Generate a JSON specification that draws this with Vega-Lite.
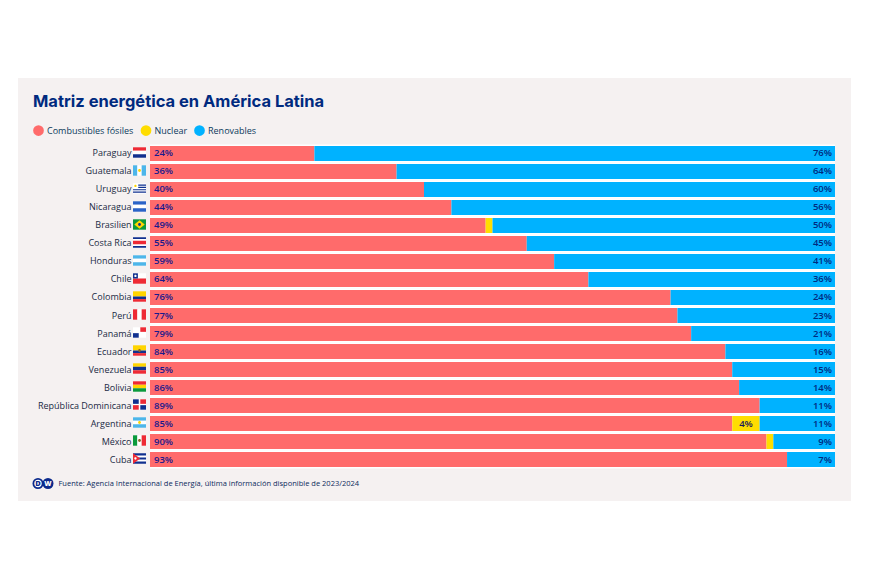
{"$schema":"https://vega.github.io/schema/vega-lite/v6.json","width":833,"height":423,"autosize":{"type":"none"},"padding":{"left":18,"top":78,"right":19,"bottom":79},"background":"#ffffff","config":{"view":{"fill":"#f5f1f1","stroke":null}},
"title":{"text":"Matriz energética en América Latina","anchor":"start","frame":"group","dx":15,"offset":-32,"font":"Inter","fontSize":16.5,"fontWeight":700,"color":"#002a7f"},
"datasets":{"energy":[
{"country":"Paraguay","source":"Combustibles fósiles","value":0.24},{"country":"Paraguay","source":"Renovables","value":0.76},
{"country":"Guatemala","source":"Combustibles fósiles","value":0.36},{"country":"Guatemala","source":"Renovables","value":0.64},
{"country":"Uruguay","source":"Combustibles fósiles","value":0.40},{"country":"Uruguay","source":"Renovables","value":0.60},
{"country":"Nicaragua","source":"Combustibles fósiles","value":0.44},{"country":"Nicaragua","source":"Renovables","value":0.56},
{"country":"Brasilien","source":"Combustibles fósiles","value":0.49},{"country":"Brasilien","source":"Nuclear","value":0.01},{"country":"Brasilien","source":"Renovables","value":0.50},
{"country":"Costa Rica","source":"Combustibles fósiles","value":0.55},{"country":"Costa Rica","source":"Renovables","value":0.45},
{"country":"Honduras","source":"Combustibles fósiles","value":0.59},{"country":"Honduras","source":"Renovables","value":0.41},
{"country":"Chile","source":"Combustibles fósiles","value":0.64},{"country":"Chile","source":"Renovables","value":0.36},
{"country":"Colombia","source":"Combustibles fósiles","value":0.76},{"country":"Colombia","source":"Renovables","value":0.24},
{"country":"Perú","source":"Combustibles fósiles","value":0.77},{"country":"Perú","source":"Renovables","value":0.23},
{"country":"Panamá","source":"Combustibles fósiles","value":0.79},{"country":"Panamá","source":"Renovables","value":0.21},
{"country":"Ecuador","source":"Combustibles fósiles","value":0.84},{"country":"Ecuador","source":"Renovables","value":0.16},
{"country":"Venezuela","source":"Combustibles fósiles","value":0.85},{"country":"Venezuela","source":"Renovables","value":0.15},
{"country":"Bolivia","source":"Combustibles fósiles","value":0.86},{"country":"Bolivia","source":"Renovables","value":0.14},
{"country":"República Dominicana","source":"Combustibles fósiles","value":0.89},{"country":"República Dominicana","source":"Renovables","value":0.11},
{"country":"Argentina","source":"Combustibles fósiles","value":0.85},{"country":"Argentina","source":"Nuclear","value":0.04},{"country":"Argentina","source":"Renovables","value":0.11},
{"country":"México","source":"Combustibles fósiles","value":0.90},{"country":"México","source":"Nuclear","value":0.01},{"country":"México","source":"Renovables","value":0.09},
{"country":"Cuba","source":"Combustibles fósiles","value":0.93},{"country":"Cuba","source":"Renovables","value":0.07}],
"flags":[
{"country":"Paraguay","part":"top","tint":"red"},{"country":"Paraguay","part":"mid","tint":"white"},{"country":"Paraguay","part":"bot","tint":"navy"},
{"country":"Guatemala","part":"left","tint":"sky"},{"country":"Guatemala","part":"center","tint":"white"},{"country":"Guatemala","part":"right","tint":"sky"},{"country":"Guatemala","part":"dot","tint":"yellow"},
{"country":"Uruguay","part":"full","tint":"white"},{"country":"Uruguay","part":"uyStripes","tint":"navy"},{"country":"Uruguay","part":"cantonDot","tint":"yellow"},
{"country":"Nicaragua","part":"top","tint":"blue"},{"country":"Nicaragua","part":"mid","tint":"white"},{"country":"Nicaragua","part":"bot","tint":"blue"},
{"country":"Brasilien","part":"full","tint":"green"},{"country":"Brasilien","part":"diamond","tint":"yellow"},{"country":"Brasilien","part":"dot","tint":"navy"},
{"country":"Costa Rica","part":"full","tint":"white"},{"country":"Costa Rica","part":"crOuter","tint":"navy"},{"country":"Costa Rica","part":"crMid","tint":"red"},
{"country":"Honduras","part":"top","tint":"sky"},{"country":"Honduras","part":"mid","tint":"white"},{"country":"Honduras","part":"bot","tint":"sky"},
{"country":"Chile","part":"topHalf","tint":"white"},{"country":"Chile","part":"botHalf","tint":"red"},{"country":"Chile","part":"canton","tint":"navy"},{"country":"Chile","part":"cantonDot","tint":"white"},
{"country":"Colombia","part":"topHalf","tint":"yellow"},{"country":"Colombia","part":"q3","tint":"navy"},{"country":"Colombia","part":"q4","tint":"red"},
{"country":"Perú","part":"left","tint":"red"},{"country":"Perú","part":"center","tint":"white"},{"country":"Perú","part":"right","tint":"red"},
{"country":"Panamá","part":"full","tint":"white"},{"country":"Panamá","part":"tr","tint":"red"},{"country":"Panamá","part":"bl","tint":"navy"},
{"country":"Ecuador","part":"topHalf","tint":"yellow"},{"country":"Ecuador","part":"q3","tint":"navy"},{"country":"Ecuador","part":"q4","tint":"red"},{"country":"Ecuador","part":"dot","tint":"brown"},
{"country":"Venezuela","part":"top","tint":"yellow"},{"country":"Venezuela","part":"mid","tint":"navy"},{"country":"Venezuela","part":"bot","tint":"red"},
{"country":"Bolivia","part":"top","tint":"red"},{"country":"Bolivia","part":"mid","tint":"yellow"},{"country":"Bolivia","part":"bot","tint":"green"},
{"country":"República Dominicana","part":"full","tint":"white"},{"country":"República Dominicana","part":"tl","tint":"navy"},{"country":"República Dominicana","part":"tr","tint":"red"},{"country":"República Dominicana","part":"bl","tint":"red"},{"country":"República Dominicana","part":"br","tint":"navy"},
{"country":"Argentina","part":"top","tint":"sky"},{"country":"Argentina","part":"mid","tint":"white"},{"country":"Argentina","part":"bot","tint":"sky"},{"country":"Argentina","part":"dot","tint":"yellow"},
{"country":"México","part":"left","tint":"green"},{"country":"México","part":"center","tint":"white"},{"country":"México","part":"right","tint":"red"},{"country":"México","part":"dot","tint":"brown"},
{"country":"Cuba","part":"full","tint":"white"},{"country":"Cuba","part":"cuStripes","tint":"navy"},{"country":"Cuba","part":"tri","tint":"red"},{"country":"Cuba","part":"triDot","tint":"white"}]},
"data":{"name":"energy"},
"resolve":{"scale":{"color":"independent"}},
"layer":[
{"mark":{"type":"bar","height":{"band":1.2},"color":"#ffffff"},
"transform":[{"filter":"datum.source === 'Renovables'"}],
"encoding":{"x":{"datum":0,"type":"quantitative","scale":{"domain":[0,1],"range":[132,817]},"axis":{"domain":false,"ticks":false,"labels":false,"grid":false,"title":"Fuente: Agencia Internacional de Energía, última información disponible de 2023/2024","titleFont":"Open Sans","titleFontSize":7.5,"titleFontWeight":400,"titleColor":"#0b2a5c","titleX":40,"titleY":-18,"titleAlign":"left","titleBaseline":"middle"}},
"x2":{"datum":1},
"y":{"field":"country","type":"nominal","sort":null,"title":null,"scale":{"domain":["Paraguay","Guatemala","Uruguay","Nicaragua","Brasilien","Costa Rica","Honduras","Chile","Colombia","Perú","Panamá","Ecuador","Venezuela","Bolivia","República Dominicana","Argentina","México","Cuba","DW"],"range":[66.5,408.5],"paddingInner":0.1667,"paddingOuter":0.0833},
"axis":{"values":["Paraguay","Guatemala","Uruguay","Nicaragua","Brasilien","Costa Rica","Honduras","Chile","Colombia","Perú","Panamá","Ecuador","Venezuela","Bolivia","República Dominicana","Argentina","México","Cuba"],"offset":-113,"domain":false,"ticks":false,"grid":false,"labelPadding":0,"labelFont":"Open Sans","labelFontSize":9,"labelColor":"#1a2a44","labelOverlap":false,"labelBound":false,"labelFlush":false}}}},
{"mark":{"type":"bar"},
"encoding":{"x":{"field":"value","type":"quantitative","stack":true},
"y":{"field":"country","type":"nominal","sort":null},
"order":{"field":"source","sort":"ascending"},
"color":{"field":"source","type":"nominal","scale":{"domain":["Combustibles fósiles","Nuclear","Renovables"],"range":["#ff6b6b","#ffdd00","#00b2ff"]},
"legend":{"orient":"none","legendX":15,"legendY":47,"direction":"horizontal","title":null,"symbolType":"circle","symbolSize":115,"symbolOpacity":1,"symbolStrokeWidth":0,"labelFont":"Open Sans","labelFontSize":9,"labelColor":"#0b3a5c","labelOffset":3,"columnPadding":6.5,"padding":0}}}},
{"mark":{"type":"text","align":"left","dx":4,"font":"Open Sans","fontSize":9.5,"fontWeight":600,"color":"#1a1a8c"},
"transform":[{"filter":"datum.source === 'Combustibles fósiles'"}],
"encoding":{"x":{"datum":0},"y":{"field":"country","type":"nominal","sort":null},"text":{"field":"value","format":".0%"}}},
{"mark":{"type":"text","align":"right","dx":-3,"font":"Open Sans","fontSize":9.5,"fontWeight":600,"color":"#002a7f"},
"transform":[{"filter":"datum.source === 'Renovables'"}],
"encoding":{"x":{"datum":1},"y":{"field":"country","type":"nominal","sort":null},"text":{"field":"value","format":".0%"}}},
{"mark":{"type":"text","align":"center","font":"Open Sans","fontSize":9.5,"fontWeight":600,"color":"#1a1a5c"},
"transform":[{"filter":"datum.source === 'Nuclear' && datum.value >= 0.02"}],
"encoding":{"x":{"datum":0.87},"y":{"field":"country","type":"nominal","sort":null},"text":{"field":"value","format":".0%"}}},
{"data":{"name":"flags"},
"mark":{"type":"point","filled":true,"opacity":1,"size":169,"strokeWidth":0,"yOffset":-1},
"encoding":{"x":{"datum":-0.0153},"y":{"field":"country","type":"nominal","sort":null},
"shape":{"field":"part","type":"nominal","legend":null,"scale":{"domain":["full","top","mid","bot","left","center","right","dot","diamond","topHalf","botHalf","q3","q4","canton","cantonDot","tl","tr","bl","br","uyStripes","cuStripes","tri","triDot","crOuter","crMid"],
"range":["M-1,-.8H1V.8H-1Z","M-1,-.8H1V-.27H-1Z","M-1,-.27H1V.27H-1Z","M-1,.27H1V.8H-1Z","M-1,-.8H-.33V.8H-1Z","M-.33,-.8H.33V.8H-.33Z","M.33,-.8H1V.8H.33Z","M.22,0A.22,.22,0,1,1,-.22,0A.22,.22,0,1,1,.22,0Z","M-.8,0L0,-.65L.8,0L0,.65Z","M-1,-.8H1V0H-1Z","M-1,0H1V.8H-1Z","M-1,0H1V.4H-1Z","M-1,.4H1V.8H-1Z","M-1,-.8H-.25V0H-1Z","M-.45,-.4A.18,.18,0,1,1,-.81,-.4A.18,.18,0,1,1,-.45,-.4Z","M-1,-.8H-.12V-.1H-1Z","M.12,-.8H1V-.1H.12Z","M-1,.1H-.12V.8H-1Z","M.12,.1H1V.8H.12Z","M-.2,-.62H1V-.44H-.2ZM-.2,-.26H1V-.08H-.2ZM-1,.1H1V.28H-1ZM-1,.46H1V.64H-1Z","M-1,-.8H1V-.48H-1ZM-1,-.16H1V.16H-1ZM-1,.48H1V.8H-1Z","M-1,-.8L.1,0L-1,.8Z","M-.45,0A.18,.18,0,1,1,-.81,0A.18,.18,0,1,1,-.45,0Z","M-1,-.8H1V-.53H-1ZM-1,.53H1V.8H-1Z","M-1,-.27H1V.27H-1Z"]}},
"color":{"field":"tint","type":"nominal","legend":null,"scale":{"domain":["white","navy","blue","sky","red","yellow","green","brown"],"range":["#ffffff","#10308f","#2a63c8","#4db6ea","#ee2a35","#ffd400","#0a9a3c","#8a6a2a"]}}}},
{"data":{"values":[{"logo":"D"}]},"mark":{"type":"point","filled":true,"opacity":1,"size":121,"strokeWidth":0,"shape":"circle","yOffset":6,"color":"#0b2a8c"},
"encoding":{"x":{"datum":-0.1635},"y":{"datum":"DW"}}},
{"data":{"values":[{"logo":"W"}]},"mark":{"type":"point","filled":true,"opacity":1,"size":121,"strokeWidth":0,"shape":"circle","yOffset":6,"color":"#0b2a8c"},
"encoding":{"x":{"datum":-0.1489},"y":{"datum":"DW"}}},
{"data":{"values":[{"logo":"D"}]},"mark":{"type":"point","filled":true,"opacity":1,"size":55,"strokeWidth":0,"shape":"circle","yOffset":6,"color":"#ffffff"},
"encoding":{"x":{"datum":-0.1635},"y":{"datum":"DW"}}},
{"data":{"values":[{"logo":"D"}]},"mark":{"type":"text","yOffset":6,"font":"Open Sans","fontSize":7.5,"fontWeight":800,"color":"#0b2a8c"},
"encoding":{"x":{"datum":-0.1635},"y":{"datum":"DW"},"text":{"field":"logo"}}},
{"data":{"values":[{"logo":"W"}]},"mark":{"type":"text","yOffset":6,"font":"Open Sans","fontSize":7,"fontWeight":800,"color":"#ffffff"},
"encoding":{"x":{"datum":-0.1489},"y":{"datum":"DW"},"text":{"field":"logo"}}}
]}
